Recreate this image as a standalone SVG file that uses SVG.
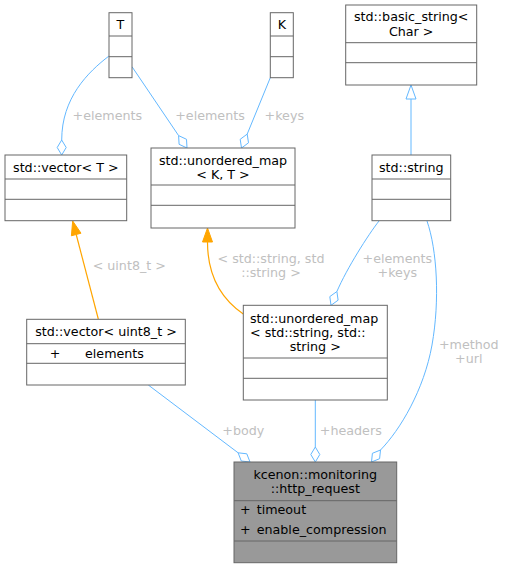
<svg xmlns="http://www.w3.org/2000/svg" width="505" height="568" viewBox="0 0 505 568">
<style>
text{font-family:"DejaVu Sans","Noto Sans",sans-serif;font-size:12.7px;fill:#000}
.c{text-anchor:middle}
.lbl{fill:#c0c0c0;text-anchor:middle}
.box{fill:#fff;stroke:#666;stroke-width:1}
.main{fill:#999;stroke:#666;stroke-width:1}
.e{fill:none;stroke:#63b8ff;stroke-width:1}
.d{fill:#fff;stroke:#63b8ff;stroke-width:1}
.o{fill:none;stroke:#ffa500;stroke-width:1.2}
.oh{fill:#ffa500;stroke:#ffa500;stroke-width:1}
</style>
<rect width="505" height="568" fill="#fff"/>
<g id="edges">
  <path class="e" d="M109,56 C88,72 61.7,98 61.7,140"/>
  <polygon class="d" points="61.7,155 57.2,147.5 61.7,140 66.2,147.5"/>
  <text class="lbl" x="107.3" y="119.5">+elements</text>

  <path class="e" d="M132,66.7 L178.6,135.6"/>
  <polygon class="d" points="187,148 179.1,144.3 178.6,135.6 186.5,139.3"/>
  <text class="lbl" x="210" y="119.5">+elements</text>

  <path class="e" d="M270.3,77.7 L247.2,134.1"/>
  <polygon class="d" points="241.5,148 240.2,139.3 247.2,134.1 248.5,142.8"/>
  <text class="lbl" x="284.3" y="119.5">+keys</text>

  <path class="e" d="M411,155 L411,99"/>
  <polygon class="d" points="411,85 406,99 416,99"/>

  <path class="o" d="M98.3,319 L76.2,234.5"/>
  <polygon class="oh" points="72.7,221 81,233.2 71.4,235.8"/>
  <text class="lbl" x="129.3" y="269.5">&lt; uint8_t &gt;</text>

  <path class="o" d="M243.3,314 C220,298 207.5,275 207.5,242"/>
  <polygon class="oh" points="207.5,228 202.5,242 212.5,242"/>
  <text class="lbl" x="271" y="262.8">&lt; std::string, std</text>
  <text class="lbl" x="271" y="276.8">::string &gt;</text>

  <path class="e" d="M379,221 C368,235 346.8,268.5 336.9,291.5"/>
  <polygon class="d" points="331,305.3 329.8,296.6 336.9,291.5 338.1,300.2"/>
  <text class="lbl" x="397.3" y="262.8">+elements</text>
  <text class="lbl" x="397.3" y="276.8">+keys</text>

  <path class="e" d="M427,221 C437,250 440,300 432,345 C424,390 400,430 380.5,450"/>
  <polygon class="d" points="371.5,462 372.4,453.3 380.5,450 379.6,458.7"/>
  <text class="lbl" x="468.8" y="348.8">+method</text>
  <text class="lbl" x="468.8" y="362.8">+url</text>

  <path class="e" d="M148.3,385 L238.1,452.8"/>
  <polygon class="d" points="250,462 241.3,461 238.1,452.8 246.8,453.8"/>
  <text class="lbl" x="243.3" y="434.5">+body</text>

  <path class="e" d="M315.3,400 L315.3,447"/>
  <polygon class="d" points="315.3,462 310.8,454.5 315.3,447 319.8,454.5"/>
  <text class="lbl" x="350.8" y="434.5">+headers</text>
</g>
<g id="node-T">
  <rect class="box" x="109" y="12.7" width="23" height="65"/>
  <line class="box" x1="109" y1="36" x2="132" y2="36"/>
  <line class="box" x1="109" y1="56.7" x2="132" y2="56.7"/>
  <text class="c" x="120.5" y="28.8">T</text>
</g>
<g id="node-K">
  <rect class="box" x="270.3" y="12.7" width="23" height="65"/>
  <line class="box" x1="270.3" y1="36" x2="293.3" y2="36"/>
  <line class="box" x1="270.3" y1="56.7" x2="293.3" y2="56.7"/>
  <text class="c" x="281.8" y="28.8">K</text>
</g>
<g id="node-basic-string">
  <rect class="box" x="345.7" y="5" width="131" height="80"/>
  <line class="box" x1="345.7" y1="42.7" x2="476.7" y2="42.7"/>
  <line class="box" x1="345.7" y1="62.7" x2="476.7" y2="62.7"/>
  <text class="c" x="411.2" y="21.3">std::basic_string&lt;</text>
  <text class="c" x="411.2" y="35.8">Char &gt;</text>
</g>
<g id="node-vector-T">
  <rect class="box" x="5" y="155" width="121.7" height="65.7"/>
  <line class="box" x1="5" y1="179" x2="126.7" y2="179"/>
  <line class="box" x1="5" y1="199.3" x2="126.7" y2="199.3"/>
  <text class="c" x="65.8" y="171.5">std::vector&lt; T &gt;</text>
</g>
<g id="node-umap-KT">
  <rect class="box" x="151" y="148" width="144" height="80"/>
  <line class="box" x1="151" y1="185" x2="295" y2="185"/>
  <line class="box" x1="151" y1="205.3" x2="295" y2="205.3"/>
  <text class="c" x="223" y="164.5">std::unordered_map</text>
  <text class="c" x="223" y="178.5">&lt; K, T &gt;</text>
</g>
<g id="node-string">
  <rect class="box" x="372" y="155" width="78.7" height="65.7"/>
  <line class="box" x1="372" y1="179" x2="450.7" y2="179"/>
  <line class="box" x1="372" y1="199.3" x2="450.7" y2="199.3"/>
  <text class="c" x="411.3" y="171.5">std::string</text>
</g>
<g id="node-vector-uint8">
  <rect class="box" x="26.7" y="319.3" width="158.6" height="65.7"/>
  <line class="box" x1="26.7" y1="343.7" x2="185.3" y2="343.7"/>
  <line class="box" x1="26.7" y1="363.3" x2="185.3" y2="363.3"/>
  <text class="c" x="106" y="336">std::vector&lt; uint8_t &gt;</text>
  <text x="49.7" y="358">+</text>
  <text x="85" y="358">elements</text>
</g>
<g id="node-umap-ss">
  <rect class="box" x="243.3" y="305.3" width="144" height="94.7"/>
  <line class="box" x1="243.3" y1="358" x2="387.3" y2="358"/>
  <line class="box" x1="243.3" y1="378.3" x2="387.3" y2="378.3"/>
  <text x="250" y="322.8">std::unordered_map</text>
  <text x="250" y="336.8">&lt; std::string, std::</text>
  <text class="c" x="315.3" y="350.8">string &gt;</text>
</g>
<g id="node-http-request">
  <rect class="main" x="234" y="462" width="162.7" height="100.7"/>
  <line class="main" x1="234" y1="500.7" x2="396.7" y2="500.7"/>
  <line class="main" x1="234" y1="541" x2="396.7" y2="541"/>
  <text class="c" x="315.3" y="478.5">kcenon::monitoring</text>
  <text class="c" x="315.3" y="493">::http_request</text>
  <text x="240" y="513.5">+</text>
  <text x="256.7" y="513.5">timeout</text>
  <text x="240" y="533.5">+</text>
  <text x="256.7" y="533.5">enable_compression</text>
</g>
</svg>
